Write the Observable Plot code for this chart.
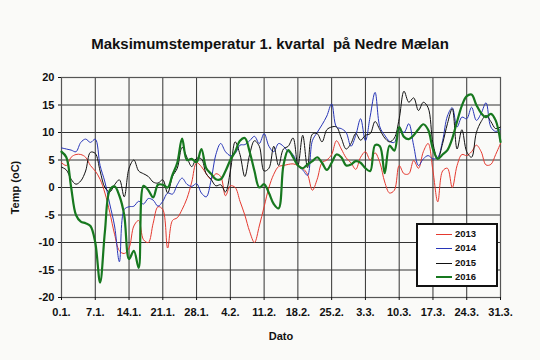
<!DOCTYPE html>
<html><head><meta charset="utf-8">
<script src="https://cdn.jsdelivr.net/npm/d3@7"></script>
<script src="https://cdn.jsdelivr.net/npm/@observablehq/plot@0.6"></script>
<style>
html,body{margin:0;padding:0}
body{background:#fafaf8;width:540px;height:360px;overflow:hidden;font-family:"Liberation Sans",Arial,sans-serif;position:relative}
#title{position:absolute;top:35px;left:0;width:540px;text-align:center;font-weight:bold;font-size:15px;color:#111;white-space:pre}
#chart{position:absolute;top:60px;left:0}
#legend{position:absolute;left:416px;top:223px;width:78px;height:60px;border:2px solid #111;background:#fff;box-sizing:content-box}
.row{position:absolute;left:18px;height:12px;font-weight:bold;font-size:9.5px;color:#111;line-height:12px}
.sw{display:inline-block;width:16px;height:0;vertical-align:middle;margin-right:3px}
</style></head>
<body>
<div id="title">Maksimumstemperatur 1. kvartal  på Nedre Mælan</div>
<div id="chart"></div>
<div id="legend"></div>
<script>
const years = ["2013", "2014", "2015", "2016"];
const colors = ["#e5392f", "#2836b8", "#111111", "#17781f"];
const widths = [1, 1, 1, 2.2];
const tickDays = [0, 7, 14, 21, 28, 35, 42, 49, 56, 63, 70, 77, 84, 91];
const tickLabels = ["0.1.", "7.1.", "14.1.", "21.1.", "28.1.", "4.2.", "11.2.", "18.2.", "25.2.", "3.3.", "10.3.", "17.3.", "24.3.", "31.3."];
const yTicks = [-20, -15, -10, -5, 0, 5, 10, 15, 20];

const t2013 = [4.5,4,5.5,6,6,5.5,4,3,1.5,-1,-4.5,-8.5,-11.5,-12,-11,-7,-6,-9.5,-10,-6.5,-3.5,-4,-11,-6,-5.5,-4,-2,1,4.5,3.8,2.5,1.5,2.5,2,-1.5,0.3,0,-2.5,-5,-8,-10,-7,-3.5,0,2.4,3.8,4,4.2,4.3,4,3.5,2.4,-0.5,1.5,4.5,5,6,8.5,7,5.4,4.5,3.3,5.5,6.5,5,6.3,4.5,1,-1,-0.5,4,2.5,2.5,4.9,3.5,6.5,8,3,-2.6,3,3.5,0,4,6,5.8,6.5,7.7,6.5,4.1,4.2,6,8];
const t2014 = [7.2,7,6.8,6.5,8.2,8.8,8.2,8.8,4,1,-3,-7,-13.5,-4,-3.5,-3.4,-2.5,-3,-2,-2.3,-3.4,-2.5,-1,-1.2,0.5,1.7,0.6,0.2,0.7,-1,-1.7,1.3,6,8,6.5,5.8,6.2,7.7,7.8,8.5,9.3,8,9.8,7.5,6.5,8,7.5,6.5,6,4,3.2,2.2,8.5,10,11.4,13,15.2,11,10.7,10,7.5,9.5,12.5,8.5,13,17.3,11,9.5,8.4,8.2,10.6,10,11.6,7.6,4,5.2,5.8,5.2,5.5,8.5,13,14.5,11,12.8,12.5,14.6,12.2,13.5,15.4,11,10.2,10.6];
const t2015 = [3.7,3.2,1.5,0.6,1.2,3,6.4,6.2,3,0,-0.8,0.5,1.4,-1.7,3.5,5,3,2.5,2,1,0.8,1.4,-1,2,3.5,7.3,5.5,3.8,5.3,5.2,2.5,1.5,0.3,0.5,-0.8,3,8.3,6,2,6,8.5,7.5,3,3.5,7.5,4,7,7.5,9,4,9.5,3.6,9.7,9.8,8.3,10.5,11,11,9,7,8,9.8,8.6,9.5,9.8,12,10.5,9,8.3,9,12.5,17.5,15.5,16.3,14,15.5,14.5,8,5.2,8,11.6,14.3,7,10.5,6.5,5.5,10,12,13.1,12,10.7,11];
const t2016 = [6.5,5.5,0,-5,-6.2,-6.5,-7,-10,-17.3,-8,-0.5,0.2,-1.5,-5,-13,-11.5,-14.6,0.3,-0.5,-1.8,0.5,0.5,0,2.3,4.5,8.9,5,5.2,4.6,7,3.5,2.5,1.5,1.5,3,5,6.5,8.5,9,6.5,3,0,0.6,-1,-3,-3.8,4,6.8,5.5,4,3.5,4.2,4.8,5.5,4.5,3.2,4.5,6,5.5,4,4.2,4.8,4.5,3.5,3,7.7,7.5,2.6,7.6,6.7,11,9.2,8.8,9.5,10.6,11.5,10.5,7,5.2,6,6.8,8.9,12,14.9,16.6,16.9,15,13.5,12.8,13.4,12.2,8.3];

const series = [t2013, t2014, t2015, t2016];
const data = [];
series.forEach((vals, s) => vals.forEach((v, i) => data.push({year: years[s], day: i, temp: v})));

const chart = Plot.plot({
  width: 540,
  height: 300,
  marginLeft: 61,
  marginRight: 40,
  marginTop: 17,
  marginBottom: 63,
  style: {background: "transparent", fontFamily: "'Liberation Sans', Arial, sans-serif", fontSize: "11px", fontWeight: "bold", color: "#111"},
  x: {domain: [0, 91]},
  y: {domain: [-20, 20]},
  color: {domain: years, range: colors},
  marks: [
    Plot.gridX(tickDays, {stroke: "#333", strokeOpacity: 1, strokeWidth: 1}),
    Plot.gridY(yTicks, {stroke: "#333", strokeOpacity: 1, strokeWidth: 1}),
    Plot.frame({stroke: "#555", strokeWidth: 1.2}),
    Plot.axisX({ticks: tickDays, tickSize: 3, tickPadding: 8, tickFormat: (d) => tickLabels[tickDays.indexOf(d)], label: "Dato", labelAnchor: "center", labelArrow: "none", labelOffset: 42}),
    Plot.axisY({ticks: yTicks, tickSize: 3, tickPadding: 4, tickFormat: (d) => String(d), label: "Temp (oC)", labelAnchor: "center", labelArrow: "none", labelOffset: 50}),
    ...years.map((y, s) => Plot.lineY(data.filter(d => d.year === y), {x: "day", y: "temp", stroke: colors[s], strokeWidth: widths[s], curve: "catmull-rom"}))
  ]
});
document.getElementById("chart").appendChild(chart);

const leg = document.getElementById("legend");
years.forEach((y, s) => {
  const r = document.createElement("div");
  r.className = "row";
  r.style.top = (3 + s * 14.3) + "px";
  r.innerHTML = `<span class="sw" style="border-top:${widths[s] > 1 ? 2 : 1}px solid ${colors[s]}"></span>${y}`;
  leg.appendChild(r);
});
</script>
</body></html>
